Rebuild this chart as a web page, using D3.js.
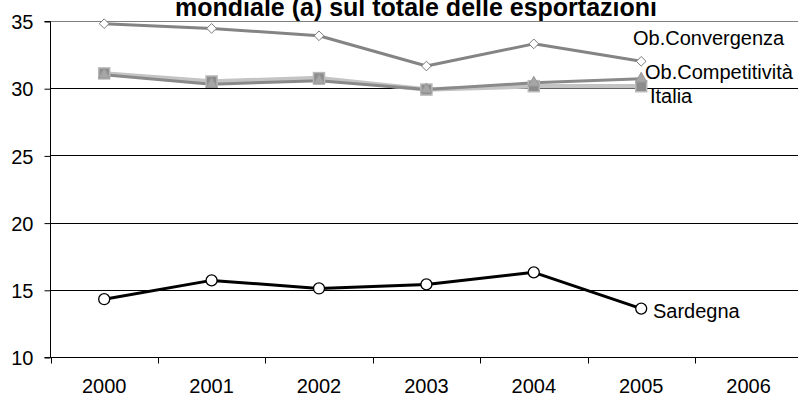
<!DOCTYPE html>
<html>
<head>
<meta charset="utf-8">
<script src="https://cdn.jsdelivr.net/npm/d3@7/dist/d3.min.js"></script>
<style>
  html, body { margin: 0; padding: 0; background: #fff; }
  svg { display: block; font-family: "Liberation Sans", Arial, sans-serif; }
</style>
</head>
<body>
<svg id="chart" width="798" height="394"></svg>
<script>
// Anni (categorie dell'asse x)
const years = ["2000", "2001", "2002", "2003", "2004", "2005", "2006"];
// Tick dell'asse y
const yTicks = [10, 15, 20, 25, 30, 35];

// Quote percentuali per serie (2000-2005)
const convergenza   = [34.8, 34.45, 33.9, 31.65, 33.3, 32.0];
const competitivita = [31.0, 30.3, 30.55, 29.9, 30.4, 30.7];
const italia        = [31.1, 30.5, 30.75, 29.9, 30.15, 30.15];
const sardegna      = [14.3, 15.7, 15.1, 15.4, 16.3, 13.6];

const seriesNames = ["Ob.Convergenza", "Ob.Competitività", "Italia", "Sardegna"];

const titleText = "mondiale (a) sul totale delle esportazioni";

const FONT = "Liberation Sans, Arial, sans-serif";
const svg = d3.select("#chart");
const plotLeft = 50.5, plotTop = 21, plotBottom = 357;
const step = 107.4;
const plotRight = plotLeft + step * years.length;

const x = d3.scaleBand().domain(years).range([plotLeft, plotRight]);
const y = d3.scaleLinear().domain([10, 35]).range([plotBottom, plotTop]);
const cx = d => x(d) + x.bandwidth() / 2;

// Titolo (seconda riga)
svg.append("text")
  .attr("x", 416).attr("y", 15.5)
  .attr("text-anchor", "middle")
  .attr("font-family", FONT)
  .attr("font-size", 25).attr("font-weight", "bold")
  .attr("fill", "#000")
  .text(titleText);

// Griglia orizzontale
svg.append("g").selectAll("line").data(yTicks.slice(1)).join("line")
  .attr("x1", plotLeft).attr("x2", 798)
  .attr("y1", d => Math.round(y(d)) + 0.5).attr("y2", d => Math.round(y(d)) + 0.5)
  .attr("stroke", d => (d === 35 ? "#808080" : "#000"))
  .attr("stroke-width", 1);

// Asse y
const yAxis = d3.axisLeft(y).tickValues(yTicks).tickSize(6).tickPadding(11);
const gy = svg.append("g").attr("transform", `translate(${plotLeft},0.5)`).call(yAxis);
gy.select(".domain").attr("stroke", "#000").attr("d", `M-6,${plotTop}H0V${plotBottom}H-6`);
gy.selectAll("text").attr("font-size", 20).attr("fill", "#000")
  .attr("font-family", FONT).attr("dy", "0.36em");
gy.selectAll(".tick line").attr("stroke", "#000");

// Asse x
const xAxis = d3.axisBottom(x).tickSize(0).tickPadding(21);
const gx = svg.append("g").attr("transform", `translate(0,${plotBottom + 0.5})`).call(xAxis);
gx.select(".domain").attr("stroke", "#000").attr("d", `M${plotLeft},0H${plotRight}`);
gx.selectAll("text").attr("font-size", 20).attr("fill", "#000")
  .attr("font-family", FONT);
// tacche tra le categorie
gx.append("g").selectAll("line").data(d3.range(years.length + 1)).join("line")
  .attr("x1", i => Math.round(plotLeft + i * step) + 0.5)
  .attr("x2", i => Math.round(plotLeft + i * step) + 0.5)
  .attr("y1", 0).attr("y2", 6).attr("stroke", "#000");

const line = d3.line().x((d, i) => cx(years[i])).y(d => y(d));
const plot = svg.append("g");

// Italia
plot.append("path").datum(italia).attr("d", line)
  .attr("fill", "none").attr("stroke", "#c4c4c4").attr("stroke-width", 4.5)
  .attr("stroke-linejoin", "round");
// Ob.Competitività
plot.append("path").datum(competitivita).attr("d", line)
  .attr("fill", "none").attr("stroke", "#8a8a8a").attr("stroke-width", 3)
  .attr("stroke-linejoin", "round");
// Ob.Convergenza
plot.append("path").datum(convergenza).attr("d", line)
  .attr("fill", "none").attr("stroke", "#848484").attr("stroke-width", 3)
  .attr("stroke-linejoin", "round");
// Sardegna
plot.append("path").datum(sardegna).attr("d", line)
  .attr("fill", "none").attr("stroke", "#000").attr("stroke-width", 3)
  .attr("stroke-linejoin", "round");

// Marcatori Italia (quadrati)
plot.append("g").selectAll("rect").data(italia).join("rect")
  .attr("x", (d, i) => cx(years[i]) - 5.5).attr("y", d => y(d) - 5.5)
  .attr("width", 11).attr("height", 11)
  .attr("fill", "#8c8c8c").attr("stroke", "#b8b8b8").attr("stroke-width", 1.5);
// Marcatori Competitività (triangoli)
plot.append("g").selectAll("path").data(competitivita).join("path")
  .attr("d", d3.symbol(d3.symbolTriangle, 55))
  .attr("transform", (d, i) => `translate(${cx(years[i])},${y(d)})`)
  .attr("fill", "#a6a6a6").attr("stroke", "#9a9a9a").attr("stroke-width", 1);
// Marcatori Convergenza (rombi)
plot.append("g").selectAll("path").data(convergenza).join("path")
  .attr("d", d3.symbol(d3.symbolDiamond2, 60))
  .attr("transform", (d, i) => `translate(${cx(years[i])},${y(d)})`)
  .attr("fill", "#fff").attr("stroke", "#7a7a7a").attr("stroke-width", 1);
// Marcatori Sardegna (cerchi)
plot.append("g").selectAll("circle").data(sardegna).join("circle")
  .attr("cx", (d, i) => cx(years[i])).attr("cy", d => y(d)).attr("r", 5.5)
  .attr("fill", "#fff").attr("stroke", "#000").attr("stroke-width", 1.3);

// Etichette delle serie
const labels = [
  { name: seriesNames[0], x: 633, y: 45 },
  { name: seriesNames[1], x: 645, y: 79 },
  { name: seriesNames[2], x: 650, y: 103 },
  { name: seriesNames[3], x: 653, y: 318 }
];
svg.append("g").selectAll("text").data(labels).join("text")
  .attr("x", d => d.x).attr("y", d => d.y)
  .attr("font-family", FONT)
  .attr("font-size", 20).attr("fill", "#000")
  .text(d => d.name);
</script>
</body>
</html>
